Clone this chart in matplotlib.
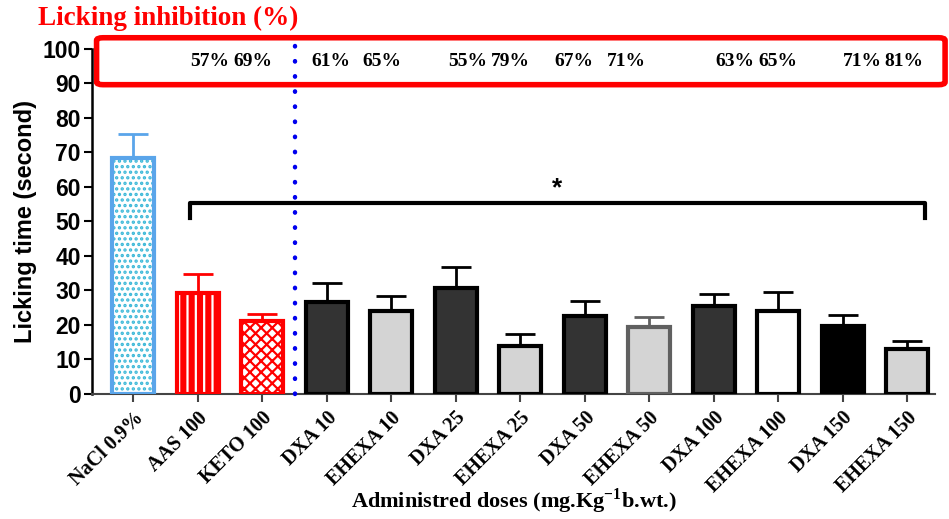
import matplotlib.pyplot as plt
import matplotlib.patches as mpatches
import numpy as np

plt.rcParams['hatch.linewidth'] = 1.6
plt.rcParams['mathtext.fontset'] = 'custom'
plt.rcParams['mathtext.bf'] = 'Liberation Serif:bold'
plt.rcParams['mathtext.rm'] = 'Liberation Serif:bold'

serif = 'Liberation Serif'
sans = 'Liberation Sans'

groups = ['NaCl 0.9%', 'AAS 100', 'KETO 100', 'DXA 10', 'EHEXA 10', 'DXA 25', 'EHEXA 25',
          'DXA 50', 'EHEXA 50', 'DXA 100', 'EHEXA 100', 'DXA 150', 'EHEXA 150']
means = [68.4, 29.2, 21.0, 26.5, 24.0, 30.6, 13.9, 22.7, 19.3, 25.4, 24.0, 19.8, 13.0]
sems = [7.0, 5.5, 2.3, 5.5, 4.5, 6.1, 3.5, 4.3, 2.9, 3.6, 5.4, 3.2, 2.4]

inhib_labels = ['57%', '69%', '61%', '65%', '55%', '79%', '67%', '71%', '63%', '65%', '71%', '81%']
inhib_x = [1.19, 1.85, 3.07, 3.86, 5.19, 5.85, 6.84, 7.64, 9.33, 10.0, 11.3, 11.95]

# fill, edge, hatch, hatch colour
styles = [
    ('white', '#5aa5ea', '...', '#3bb8d8'),
    ('#ff0000', '#ff0000', '||', 'white'),
    ('white', '#ff0000', 'xxx', '#ff0000'),
    ('#333333', 'black', None, None),
    ('#d4d4d4', 'black', None, None),
    ('#333333', 'black', None, None),
    ('#d4d4d4', 'black', None, None),
    ('#333333', 'black', None, None),
    ('#d4d4d4', '#606060', None, None),
    ('#333333', 'black', None, None),
    ('white', 'black', None, None),
    ('black', 'black', None, None),
    ('#d4d4d4', 'black', None, None),
]

x = np.arange(len(groups))
width = 0.65

fig = plt.figure(figsize=(9.49, 5.19), dpi=100)
ax = fig.add_axes([0.097, 0.241, 0.888, 0.665])

for i, (fc, ec, hatch, hc) in enumerate(styles):
    if hatch:
        ax.bar(x[i], means[i], width, color=fc, edgecolor=hc, hatch=hatch, linewidth=0, zorder=2)
        ax.bar(x[i], means[i], width, fill=False, edgecolor=ec, linewidth=3, zorder=3)
    else:
        ax.bar(x[i], means[i], width, color=fc, edgecolor=ec, linewidth=3, zorder=3)
    ax.errorbar(x[i], means[i], yerr=[[0], [sems[i]]], fmt='none', ecolor=ec,
                elinewidth=2, capsize=11, capthick=2, zorder=2)

# dotted separator between references and extracts
ax.plot([2.5, 2.5], [0, 102], color='#0000ee', linewidth=3.2,
        linestyle=(0, (0.1, 3.3)), dash_capstyle='round', clip_on=False, zorder=4)

# significance bracket
ax.plot([0.88, 0.88, 12.28, 12.28], [51, 55.4, 55.4, 51], color='black', linewidth=3, zorder=4)
ax.text(6.57, 56, '*', ha='center', va='bottom', fontsize=19, fontweight='bold', family=sans)

# inhibition box
box = mpatches.FancyBboxPatch((-0.57, 89.6), 13.16, 13.6,
                              boxstyle='round,pad=0,rounding_size=0.1',
                              fill=False, edgecolor='#ff0000', linewidth=4, clip_on=False,
                              mutation_aspect=8)
ax.add_patch(box)
for xt, lab in zip(inhib_x, inhib_labels):
    ax.text(xt, 96.2, lab, ha='center', va='center', fontsize=14,
            fontweight='bold', family=serif)
fig.text(0.04, 0.965, 'Licking inhibition (%)', color='#ff0000', fontsize=19.5,
         fontweight='bold', family=serif, va='center')

ax.set_xlim(-0.64, 12.43)
ax.set_ylim(0, 100)
ax.set_yticks(np.arange(0, 101, 10))
ax.set_xticks(x)
ax.set_xticklabels(groups, rotation=45, ha='right', rotation_mode='anchor',
                   fontsize=14.5, fontweight='bold', family=serif)
for lab in ax.get_yticklabels():
    lab.set_fontsize(16.5)
    lab.set_fontweight('bold')
    lab.set_family(sans)
ax.tick_params(axis='y', width=1.5, length=6, pad=2)
ax.tick_params(axis='x', width=1.5, length=6, color='#444444', pad=4)

ax.spines['top'].set_visible(False)
ax.spines['right'].set_visible(False)
ax.spines['left'].set_linewidth(1.8)
ax.spines['bottom'].set_linewidth(1.5)
ax.spines['bottom'].set_color('#444444')

ax.set_ylabel('Licking time (second)', fontsize=17, fontweight='bold', family=sans, labelpad=4)
fig.text(0.542, 0.035, 'Administred doses (mg.Kg$^{\\mathrm{-1}}$b.wt.)', ha='center', va='center',
         fontsize=16, fontweight='bold', family=serif)

fig.savefig('out.png', dpi=100)
